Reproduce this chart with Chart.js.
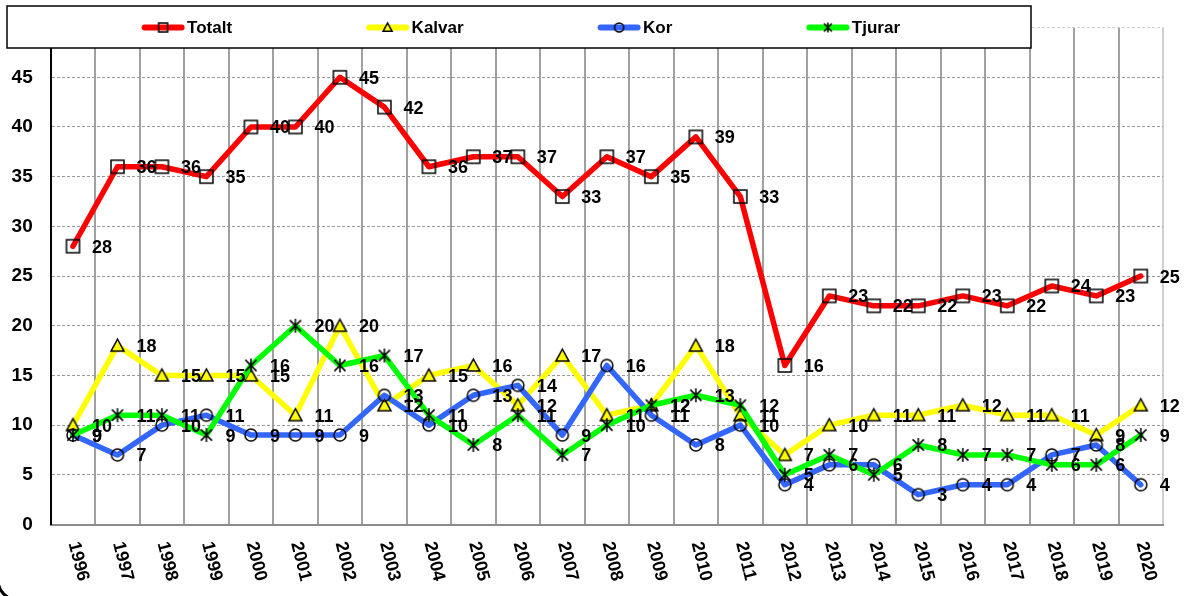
<!DOCTYPE html>
<html><head><meta charset="utf-8">
<script src="https://cdn.jsdelivr.net/npm/chart.js@4/dist/chart.umd.min.js"></script>
<style>html,body{margin:0;padding:0;background:#fff;overflow:hidden}</style>
</head><body>
<canvas id="c" width="1184" height="596"></canvas>
<script>
const years = ['1996','1997','1998','1999','2000','2001','2002','2003','2004','2005','2006','2007','2008','2009','2010','2011','2012','2013','2014','2015','2016','2017','2018','2019','2020'];
const totalt = [28,36,36,35,40,40,45,42,36,37,37,33,37,35,39,33,16,23,22,22,23,22,24,23,25];
const kalvar = [10,18,15,15,15,11,20,12,15,16,12,17,11,12,18,11,7,10,11,11,12,11,11,9,12];
const kor    = [9,7,10,11,9,9,9,13,10,13,14,9,16,11,8,10,4,6,6,3,4,4,7,8,4];
const tjurar = [9,11,11,9,16,20,16,17,11,8,11,7,10,12,13,12,5,7,5,8,7,7,6,6,9];
const seriesNames = ['Totalt','Kalvar','Kor','Tjurar'];
const yMin = 0, yMax = 50, yStep = 5;

const FONT = '"Liberation Sans", Arial, sans-serif';

function marker(type, s, fill) {
  const c = document.createElement('canvas');
  const n = Math.ceil(s + 4);
  c.width = n; c.height = n;
  const g = c.getContext('2d');
  const m = n / 2, h = s / 2;
  g.lineWidth = 1.5; g.strokeStyle = '#000';
  g.beginPath();
  if (type === 'square') {
    g.rect(m - h, m - h, s, s);
  } else if (type === 'circle') {
    g.arc(m, m, h, 0, Math.PI * 2);
  } else if (type === 'triangle') {
    g.moveTo(m, m - h); g.lineTo(m + h, m + h * 0.85); g.lineTo(m - h, m + h * 0.85); g.closePath();
    if (fill) { g.fillStyle = fill; g.fill(); }
  } else if (type === 'star') {
    const d = h * 0.8;
    g.moveTo(m - d, m - d); g.lineTo(m + d, m + d);
    g.moveTo(m + d, m - d); g.lineTo(m - d, m + d);
    g.moveTo(m, m - h); g.lineTo(m, m + h);
  }
  g.stroke();
  return c;
}

const colors = ['#ff0000', '#ffff00', '#3366ff', '#00ff00'];
const types = ['square', 'triangle', 'circle', 'star'];
const sizes = [13, 13, 12, 14];
const legendSizes = [9, 9, 9, 10];
const chartMarkers = types.map((t, i) => marker(t, sizes[i], colors[i]));
const legendMarkers = types.map((t, i) => marker(t, legendSizes[i], colors[i]));
const values = [totalt, kalvar, kor, tjurar];

const datasets = seriesNames.map((name, i) => ({
  label: name,
  data: values[i],
  borderColor: colors[i],
  backgroundColor: colors[i],
  borderWidth: 5.5,
  borderJoinStyle: 'round',
  borderCapStyle: 'round',
  tension: 0,
  pointStyle: chartMarkers[i],
  pointRadius: 6,
  order: 4 - i
}));

const decor = {
  id: 'decor',
  afterDatasetsDraw(chart) {
    const ctx = chart.ctx;
    ctx.save();
    ctx.font = 'bold 18px ' + FONT;
    ctx.fillStyle = '#000';
    ctx.textAlign = 'left';
    ctx.textBaseline = 'middle';
    chart.data.datasets.forEach((ds, i) => {
      const meta = chart.getDatasetMeta(i);
      meta.data.forEach((pt, j) => {
        ctx.fillText(String(ds.data[j]), pt.x + 19, pt.y + 1.5);
      });
    });
    ctx.restore();
  },
  afterDraw(chart) {
    const ctx = chart.ctx;
    const xs = chart.scales.x;
    ctx.save();
    ctx.font = 'bold 18px ' + FONT;
    ctx.fillStyle = '#000';
    ctx.textAlign = 'left';
    ctx.textBaseline = 'middle';
    chart.data.labels.forEach((lab, i) => {
      const x = xs.getPixelForTick(i);
      ctx.save();
      ctx.translate(x + 0.5, 542);
      ctx.rotate(76 * Math.PI / 180);
      ctx.fillText(lab, 0, 0);
      ctx.restore();
    });
    ctx.restore();

    ctx.save();
    ctx.fillStyle = '#fff';
    ctx.fillRect(7, 6, 1024, 42);
    ctx.strokeStyle = '#000';
    ctx.lineWidth = 1.5;
    ctx.strokeRect(7, 6, 1024, 42);
    ctx.font = 'bold 17px ' + FONT;
    ctx.textBaseline = 'middle';
    ctx.textAlign = 'left';
    let x = 141.6;
    const cy = 27.5;
    chart.data.datasets.forEach((ds, i) => {
      ctx.strokeStyle = ds.borderColor;
      ctx.lineWidth = 6;
      ctx.lineCap = 'round';
      ctx.beginPath();
      ctx.moveTo(x + 3, cy); ctx.lineTo(x + 40, cy);
      ctx.stroke();
      const mk = legendMarkers[i];
      ctx.drawImage(mk, x + 21.5 - mk.width / 2, cy - mk.height / 2);
      ctx.fillStyle = '#000';
      ctx.fillText(ds.label, x + 45.5, cy + 0.5);
      x += 45.5 + ctx.measureText(ds.label).width + 134;
    });
    ctx.restore();

    ctx.save();
    ctx.strokeStyle = '#000';
    ctx.lineWidth = 3;
    ctx.beginPath();
    ctx.arc(18, 580, 20, Math.PI / 2, Math.PI);
    ctx.stroke();
    ctx.restore();
  }
};

new Chart(document.getElementById('c'), {
  type: 'line',
  data: { labels: years, datasets },
  options: {
    responsive: false,
    animation: false,
    devicePixelRatio: 1,
    layout: { padding: { top: 27.6, right: 21, left: 0, bottom: 0 } },
    plugins: { legend: { display: false }, title: { display: false }, tooltip: { enabled: false } },
    scales: {
      x: {
        offset: true,
        grid: { offset: true, drawTicks: false, lineWidth: 2, color: c => (c.tick ? '#a0a0a0' : '#cfcfcf') },
        border: { color: '#8c8c8c', width: 2 },
        ticks: { display: false },
        afterFit(s) { s.height = 71.5; s.paddingLeft = 0; s.paddingRight = 0; }
      },
      y: {
        min: yMin, max: yMax,
        ticks: {
          stepSize: yStep, padding: 18, color: '#000',
          font: { family: FONT, size: 19, weight: 'bold' },
          callback: v => (v === yMax ? '' : String(v))
        },
        grid: { drawTicks: false, lineWidth: 1, color: c => (c.tick && c.tick.value === yMax ? '#cfcfcf' : '#999999') },
        border: { color: '#000', width: 2, dash: [3, 2] },
        afterFit(s) { s.width = 50.7; s.paddingTop = 0; s.paddingBottom = 0; }
      }
    }
  },
  plugins: [decor]
});
</script>
</body></html>
